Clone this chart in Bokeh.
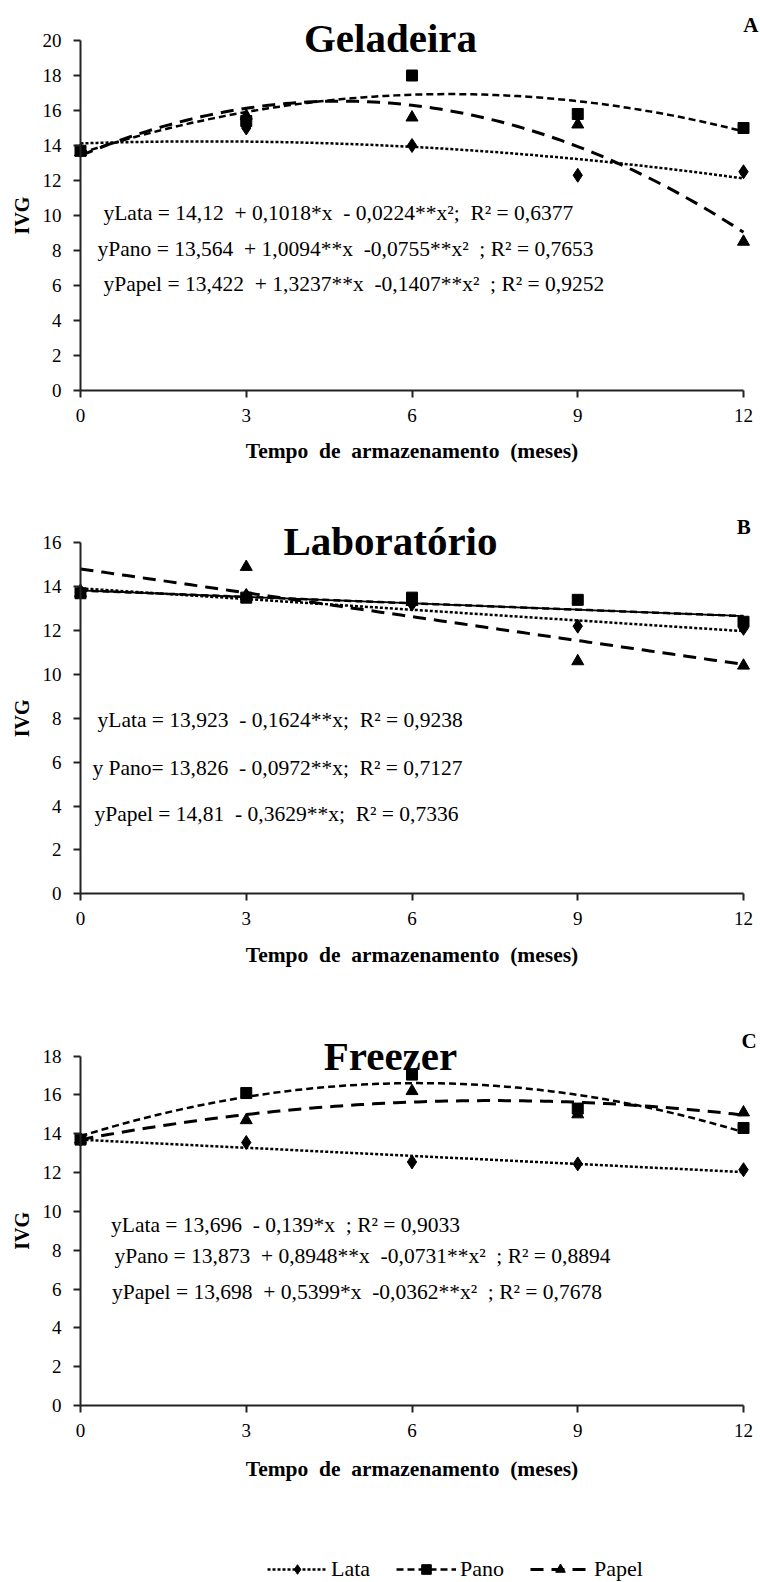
import numpy as np
from bokeh.plotting import figure
from bokeh.models import Label, Legend, LegendItem, FixedTicker, Range1d
from bokeh.layouts import column
from bokeh.embed import file_html
from bokeh.resources import INLINE

# ---------------- data ----------------
months = [0, 3, 6, 9, 12]
series_names = ["Lata", "Pano", "Papel"]

# Panel A - Geladeira
gel_lata = [13.7, 15.0, 14.0, 12.3, 12.5]
gel_pano = [13.7, 15.4, 18.0, 15.8, 15.0]
gel_papel = [13.6, 15.7, 15.6, 15.2, 8.5]
gel_lata_fit = [14.12, 0.1018, -0.0224]
gel_pano_fit = [13.564, 1.0094, -0.0755]
gel_papel_fit = [13.422, 1.3237, -0.1407]
gel_eqs = [
    "yLata = 14,12  + 0,1018*x  - 0,0224**x²;  R² = 0,6377",
    "yPano = 13,564  + 1,0094**x  -0,0755**x²  ; R² = 0,7653",
    "yPapel = 13,422  + 1,3237**x  -0,1407**x²  ; R² = 0,9252",
]

# Panel B - Laboratório
lab_lata = [13.8, 13.6, 13.2, 12.2, 12.1]
lab_pano = [13.7, 13.5, 13.5, 13.4, 12.4]
lab_papel = [13.7, 14.9, 13.3, 10.6, 10.4]
lab_lata_fit = [13.923, -0.1624, 0.0]
lab_pano_fit = [13.826, -0.0972, 0.0]
lab_papel_fit = [14.81, -0.3629, 0.0]
lab_eqs = [
    "yLata = 13,923  - 0,1624**x;  R² = 0,9238",
    "y Pano= 13,826  - 0,0972**x;  R² = 0,7127",
    "yPapel = 14,81  - 0,3629**x;  R² = 0,7336",
]

# Panel C - Freezer
fre_lata = [13.7, 13.55, 12.55, 12.45, 12.15]
fre_pano = [13.7, 16.1, 17.05, 15.3, 14.3]
fre_papel = [13.7, 14.7, 16.2, 15.0, 15.1]
fre_lata_fit = [13.696, -0.139, 0.0]
fre_pano_fit = [13.873, 0.8948, -0.0731]
fre_papel_fit = [13.698, 0.5399, -0.0362]
fre_eqs = [
    "yLata = 13,696  - 0,139*x  ; R² = 0,9033",
    "yPano = 13,873  + 0,8948**x   -0,0731**x²  ; R² = 0,8894",
    "yPapel = 13,698  + 0,5399*x  -0,0362**x²  ; R² = 0,7678",
]

x_ticks = [0, 3, 6, 9, 12]
x_title = "Tempo  de  armazenamento  (meses)"
y_title = "IVG"

FONT = "Liberation Serif"
W = 760
PX_PER_MONTH = 55.25
X0_PX = 80  # x=0 position inside figure

STYLE = {
    "Lata": dict(dash="3 2", width=2.5, marker="diamond", size=14),
    "Pano": dict(dash="7 4", width=2.5, marker="square", size=11),
    "Papel": dict(dash="13 8", width=3, marker="triangle", size=12),
}


def nb(s):
    # keep the double spaces of the original text
    return s.replace("  ", "\u00a0 ")


def poly(c, xs):
    return c[0] + c[1] * xs + c[2] * xs ** 2


def make_panel(height, y_start, y_end, y_max, values, fits, eqs, eq_pos,
               title, title_y, letter, letter_xy, xtitle_y, extra_solid=None):
    x_start = -X0_PX / PX_PER_MONTH
    x_end = x_start + W / PX_PER_MONTH
    p = figure(width=W, height=height, toolbar_location=None, output_backend="svg",
               x_range=Range1d(x_start, x_end), y_range=Range1d(y_start, y_end),
               min_border=0)
    p.outline_line_color = None
    p.grid.visible = False

    xs = np.linspace(0, 12, 121)
    if extra_solid is not None:
        p.line(xs, poly(extra_solid, xs), line_color="black", line_width=1.8)
    rends = {}
    for name, fit in zip(series_names, fits):
        st = STYLE[name]
        rends[name] = [p.line(xs, poly(fit, xs), line_color="black",
                              line_width=st["width"], line_dash=st["dash"])]
    for name, vals in zip(series_names, values):
        st = STYLE[name]
        rends[name].append(p.scatter(months, vals, marker=st["marker"], size=st["size"],
                                     fill_color="black", line_color="black"))

    for txt, (ex, ey) in zip(eqs, eq_pos):
        p.add_layout(Label(x=ex, y=ey, text=nb(txt), text_font=FONT,
                           text_font_size="21.5px", text_baseline="middle",
                           text_align="left", text_color="black"))
    p.add_layout(Label(x=5.61, y=title_y, text=title, text_font=FONT,
                       text_font_size="41px", text_font_style="bold",
                       text_align="center", text_baseline="middle",
                       text_color="black"))
    p.add_layout(Label(x=letter_xy[0], y=letter_xy[1], text=letter, text_font=FONT,
                       text_font_size="21px", text_font_style="bold",
                       text_align="right", text_baseline="middle",
                       text_color="black"))
    # axis titles
    p.add_layout(Label(x=6.0, y=xtitle_y, text=nb(x_title), text_font=FONT,
                       text_font_size="21.5px", text_font_style="bold",
                       text_align="center", text_baseline="middle",
                       text_color="black"))
    p.add_layout(Label(x=-1.05, y=y_max / 2, text=y_title, text_font=FONT,
                       text_font_size="20px", text_font_style="bold",
                       text_align="center", text_baseline="middle",
                       angle=np.pi / 2, text_color="black"))

    xa = p.xaxis[0]
    xa.fixed_location = 0
    xa.bounds = (0, 12)
    xa.ticker = FixedTicker(ticks=x_ticks)
    xa.minor_tick_line_color = None
    xa.major_tick_out = 7
    xa.major_tick_in = 0
    xa.axis_line_width = 2
    xa.major_tick_line_width = 2
    xa.axis_line_color = "#222222"
    xa.major_tick_line_color = "#222222"
    xa.major_label_text_font = FONT
    xa.major_label_text_font_size = "19px"
    xa.major_label_text_color = "black"
    xa.major_label_standoff = 11

    ya = p.yaxis[0]
    ya.fixed_location = 0
    ya.bounds = (0, y_max)
    ya.ticker = FixedTicker(ticks=list(range(0, y_max + 1, 2)))
    ya.minor_tick_line_color = None
    ya.major_tick_out = 7
    ya.major_tick_in = 0
    ya.axis_line_width = 2
    ya.major_tick_line_width = 2
    ya.axis_line_color = "#222222"
    ya.major_tick_line_color = "#222222"
    ya.major_label_text_font = FONT
    ya.major_label_text_font_size = "19px"
    ya.major_label_text_color = "black"
    ya.major_label_standoff = 12
    return p, rends


pA, _ = make_panel(505, -6.571, 22.286, 20,
                   [gel_lata, gel_pano, gel_papel],
                   [gel_lata_fit, gel_pano_fit, gel_papel_fit],
                   gel_eqs, [(0.416, 10.15), (0.308, 8.1), (0.416, 6.1)],
                   "Geladeira", 20.14, "A", (12.27, 20.86), -3.43)

pB, _ = make_panel(520, -6.003, 17.70, 16,
                   [lab_lata, lab_pano, lab_papel],
                   [lab_lata_fit, lab_pano_fit, lab_papel_fit],
                   lab_eqs, [(0.308, 7.9), (0.217, 5.73), (0.253, 3.65)],
                   "Laboratório", 16.10, "B", (12.13, 16.70), -2.81,
                   extra_solid=lab_pano_fit)

pC, rC = make_panel(557, -9.119, 19.58, 18,
                    [fre_lata, fre_pano, fre_papel],
                    [fre_lata_fit, fre_pano_fit, fre_papel_fit],
                    fre_eqs, [(0.552, 9.30), (0.615, 7.68), (0.570, 5.85)],
                    "Freezer", 18.01, "C", (12.24, 18.76), -3.25)

items = [LegendItem(label=name, renderers=rC[name]) for name in series_names]
legend = Legend(items=items, orientation="horizontal", location=(267, 0),
                glyph_width=60, glyph_height=24, label_height=24,
                label_standoff=4, spacing=26, padding=0, margin=0,
                label_text_font=FONT, label_text_font_size="22px",
                label_text_color="black", border_line_color=None,
                background_fill_alpha=0)
pC.add_layout(legend)

layout = column(pA, pB, pC, spacing=0)
open("out.html", "w").write(file_html(layout, INLINE))
